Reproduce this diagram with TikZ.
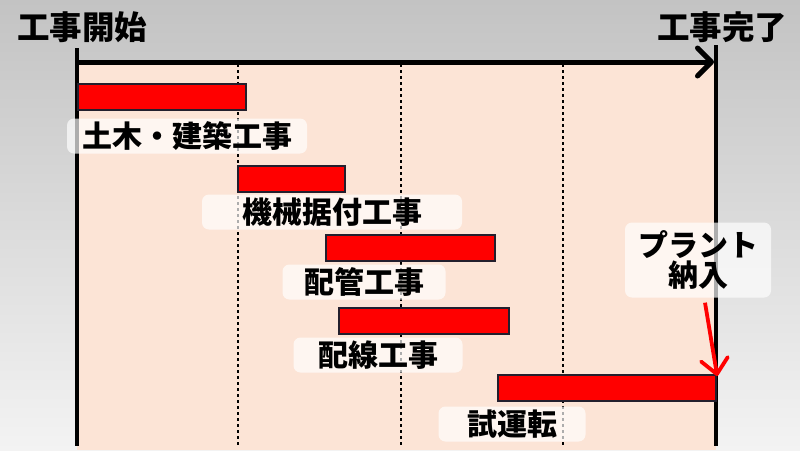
\documentclass[tikz,border=0pt]{standalone}
\usepackage{fontspec}
\usepackage{tikz}
\newfontfamily\jpfont{Noto Sans CJK JP}
\usetikzlibrary{arrows.meta,positioning}

\definecolor{bgtop}{RGB}{195,195,195}
\definecolor{bgbottom}{RGB}{243,243,243}
\definecolor{peach}{RGB}{252,228,214}
\definecolor{barline}{RGB}{35,31,45}

\tikzset{
	task/.style={draw=barline, line width=2.2pt, fill=red, anchor=north west,
		minimum height=26pt, minimum width=#1, inner sep=0pt},
	caption/.style={fill=white, fill opacity=0.68, text opacity=1,
		rounded corners=7pt, minimum height=35pt, minimum width=#1, inner sep=2pt,
		align=center, font=\jpfont\bfseries\fontsize{30}{34}\selectfont},
	heading/.style={font=\jpfont\bfseries\fontsize{32.5}{36}\selectfont, inner sep=0pt},
	grid line/.style={line width=2.8pt, dash pattern=on 3pt off 3pt},
	edge line/.style={line width=3.4pt},
}

\begin{document}
\begin{tikzpicture}[x=1pt, y=-1pt]
	\useasboundingbox (0,0) rectangle (800,450);
	\shade[top color=bgtop, bottom color=bgbottom] (0,0) rectangle (800,450);
	\fill[peach] (77,62) rectangle (716,450);
	
	% grid
	\foreach \gx in {238,401,563}
		\draw[grid line] (\gx,64) -- (\gx,446);
	
	\coordinate (start top) at (77,48);
	\coordinate (start bottom) at (77,446);
	\coordinate (end top) at (716,45);
	\coordinate (end bottom) at (716,446);
	\draw[edge line] (start top) -- (start bottom);
	\draw[edge line] (end top) -- (end bottom);
	
	\node[heading] (kaishi) at (82,27) {工事開始};
	\node[heading] (kanryo) at (722,27) {工事完了};
	
	\coordinate (axis a) at (77,62);
	\coordinate (axis b) at (714,62);
	\draw[line width=5pt, -{Straight Barb[length=14pt, width=28pt, line width=5pt, round]}] (axis a) -- (axis b);
	
	% tasks
	\node[task=168pt] (doboku) at (77,83) {};
	\node[task=107pt] (kikai) at (237,165) {};
	\node[task=169pt] (haikan) at (325,234) {};
	\node[task=170pt] (haisen) at (338,307) {};
	\node[task=218pt] (shiunten) at (497,374) {};
	
	\node[caption=240pt] (doboku label) at (187,136) {土木・建築工事};
	\node[caption=260pt] (kikai label) at (332,212) {機械据付工事};
	\node[caption=163pt] (haikan label) at (364,282) {配管工事};
	\node[caption=169pt] (haisen label) at (378,355) {配線工事};
	\node[caption=147pt] (shiunten label) at (512,424) {試運転};
	\node[caption=146pt, minimum height=75pt] (nonyu) at (698,260) {プラント\\[-4pt]納入};
	
	\draw[red, line width=3.8pt, -{Straight Barb[length=15pt, width=27pt, line width=3.8pt, round]}]
		([xshift=7pt,yshift=-5pt]nonyu.south) -- ([yshift=-2pt]shiunten.north east);
\end{tikzpicture}
\end{document}
